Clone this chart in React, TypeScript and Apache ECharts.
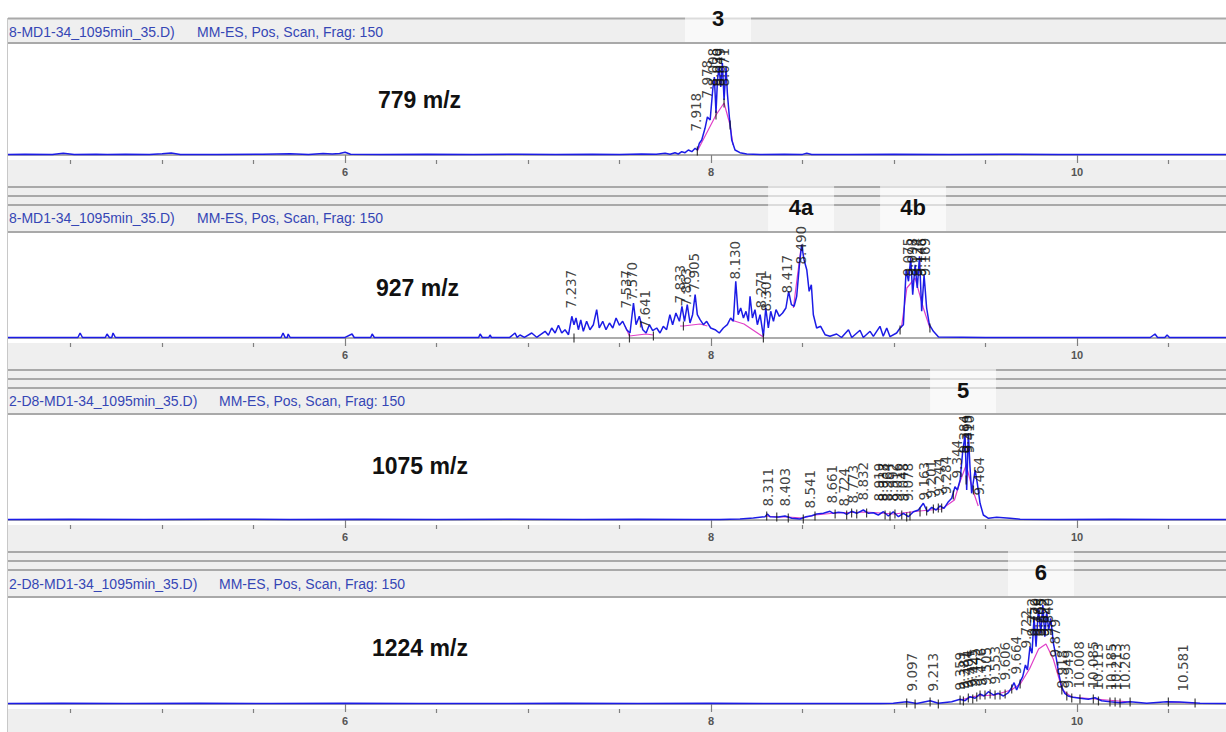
import React, { useEffect, useRef } from "react";
import * as echarts from "echarts";

// ---------- data ----------
const X_MIN = 4.158;
const X_MAX = 10.814;
const majorTicks = [6, 8, 10];
const minorTicks = [4.5, 5, 5.5, 6.5, 7, 7.5, 8.5, 9, 9.5, 10.5];

const panelTitles = ["779 m/z", "927 m/z", "1075 m/z", "1224 m/z"];
const fileNames = [
  "8-MD1-34_1095min_35.D)",
  "8-MD1-34_1095min_35.D)",
  "2-D8-MD1-34_1095min_35.D)",
  "2-D8-MD1-34_1095min_35.D)",
];
const scanInfo = "MM-ES, Pos, Scan, Frag: 150";

// compound tags: [panel, text, retention time]
const tagPanels = [0, 1, 1, 2, 3];
const tagTexts = ["3", "4a", "4b", "5", "6"];
const tagTimes = [8.038, 8.492, 9.104, 9.377, 9.803];

const trace779 = [
  [4.158, 0.5], [4.25, 0.8], [4.4, 0.5], [4.46, 1.8], [4.52, 0.6], [4.64, 0.8], [4.7, 0.5], [4.8, 0.7],
  [4.93, 0.4], [5.0, 1.2], [5.05, 2.0], [5.1, 0.6], [5.3, 0.5], [5.55, 0.8], [5.7, 1.2], [5.8, 0.6],
  [5.88, 1.5], [5.93, 1.0], [5.97, 1.6], [6.0, 2.8], [6.03, 0.8], [6.2, 0.5], [6.45, 0.7], [6.7, 0.4],
  [6.95, 0.8], [7.15, 0.6], [7.35, 0.7], [7.5, 0.6], [7.62, 1.0], [7.7, 0.8],
  [7.749, 1.7], [7.776, 0.7], [7.803, 2.3], [7.821, 1.0], [7.84, 3.3], [7.858, 2.3], [7.876, 5.0],
  [7.895, 3.3], [7.913, 6.7], [7.925, 5.0], [7.936, 11.7], [7.949, 15], [7.967, 26.7], [7.98, 38],
  [7.995, 35], [8.009, 65], [8.018, 78], [8.027, 42], [8.035, 75], [8.044, 88], [8.053, 68], [8.062, 92],
  [8.071, 55], [8.082, 88], [8.089, 62], [8.1, 38], [8.113, 15], [8.131, 5], [8.158, 2.3], [8.195, 1],
  [8.268, 0.5], [8.4, 0.7], [8.5, 0.6], [8.523, 1.8], [8.55, 0.6], [8.75, 0.5], [9.0, 0.7], [9.3, 0.5],
  [9.6, 0.7], [9.9, 0.5], [10.2, 0.6], [10.5, 0.5], [10.814, 0.6],
];

const trace927 = [
  [4.158, 0.5], [4.4, 0.6], [4.54, 0.5], [4.552, 5], [4.565, 0.5], [4.69, 0.5], [4.699, 4], [4.712, 0.5],
  [4.725, 0.5], [4.732, 5], [4.745, 0.5], [5.0, 0.6], [5.3, 0.5], [5.65, 0.5], [5.661, 5], [5.672, 0.6],
  [5.684, 0.5], [5.689, 4], [5.7, 0.5], [6.0, 0.6], [6.038, 4], [6.05, 0.5], [6.14, 0.5], [6.148, 4],
  [6.16, 0.5], [6.5, 0.6], [6.73, 0.5], [6.738, 4], [6.75, 0.5], [6.785, 0.5], [6.792, 3], [6.8, 0.5],
  [6.9, 0.6], [6.929, 5], [6.94, 0.6],
  [6.956, 3], [6.98, 0.7], [7.02, 5], [7.047, 0.7], [7.093, 6.7], [7.111, 2.7], [7.129, 10], [7.148, 5],
  [7.166, 12.7], [7.184, 5], [7.202, 8.3], [7.221, 3.3], [7.239, 21.7], [7.251, 13.3], [7.262, 20],
  [7.275, 8.3], [7.288, 18], [7.302, 6.7], [7.32, 16.7], [7.338, 8.3], [7.357, 13.3], [7.375, 28.3],
  [7.389, 10], [7.408, 16.7], [7.426, 8.3], [7.445, 15], [7.463, 10], [7.481, 20], [7.499, 12.7],
  [7.517, 16.7], [7.539, 8.3], [7.557, 5], [7.576, 35], [7.59, 13.3], [7.608, 21.7], [7.627, 8.3],
  [7.645, 5], [7.663, 13.3], [7.681, 7.3], [7.703, 10], [7.721, 5], [7.739, 11.7], [7.757, 8.3],
  [7.775, 23.3], [7.79, 13.3], [7.808, 25], [7.827, 16.7], [7.841, 31.7], [7.855, 16.7], [7.87, 33.3],
  [7.885, 15], [7.899, 23.3], [7.913, 43.3], [7.925, 23.3], [7.94, 18.3], [7.958, 13.3], [7.976, 16.7],
  [7.998, 10], [8.022, 8.3], [8.045, 5], [8.067, 10], [8.089, 13.3], [8.107, 20], [8.122, 16.7],
  [8.135, 56.7], [8.148, 23.3], [8.162, 30], [8.177, 20], [8.191, 26.7], [8.204, 16.7], [8.213, 41.7],
  [8.226, 20], [8.24, 28.3], [8.253, 13.3], [8.268, 23.3], [8.286, 1.7], [8.299, 30], [8.313, 10],
  [8.326, 26.7], [8.341, 16.7], [8.355, 28.3], [8.373, 21.7], [8.391, 25], [8.409, 30], [8.424, 46.7],
  [8.439, 33.3], [8.454, 31.7], [8.468, 41.7], [8.483, 73.3], [8.495, 93.3], [8.508, 78.3], [8.523, 68.3],
  [8.536, 46.7], [8.548, 53.3], [8.559, 23.3], [8.577, 10], [8.599, 11.7], [8.623, 3.3], [8.65, 1.7],
  [8.686, 4], [8.713, 0.5], [8.751, 8.3], [8.769, 0.5], [8.814, 7.7], [8.832, 0.5], [8.869, 6.7],
  [8.887, 1.7], [8.923, 11.7], [8.941, 1.7], [8.96, 10], [8.978, 1.3], [9.014, 5], [9.033, 10],
  [9.051, 13.3], [9.066, 68.3], [9.079, 56.7], [9.091, 80], [9.102, 43.3], [9.115, 73.3], [9.127, 50],
  [9.139, 81.7], [9.151, 26.7], [9.164, 63.3], [9.178, 30], [9.193, 13.3], [9.215, 6.7], [9.243, 1],
  [9.5, 0.6], [9.8, 0.5], [10.1, 0.6], [10.4, 0.5], [10.426, 4], [10.44, 0.5], [10.48, 0.5], [10.492, 3],
  [10.505, 0.5], [10.814, 0.6],
];

const trace1075 = [
  [4.158, 0.6], [4.5, 0.8], [4.9, 0.5], [5.3, 0.7], [5.7, 0.6], [6.1, 0.8], [6.5, 0.5], [6.9, 0.7],
  [7.3, 0.6], [7.6, 0.8], [7.9, 0.5], [8.049, 0.5], [8.158, 1], [8.231, 2], [8.295, 3.3], [8.308, 6],
  [8.322, 3.3], [8.368, 3], [8.404, 4], [8.441, 1.7], [8.486, 1], [8.519, 3.3], [8.55, 4.3], [8.577, 6],
  [8.614, 6.7], [8.65, 8.7], [8.668, 6.7], [8.696, 7.7], [8.723, 7.3], [8.741, 5.7], [8.768, 8.7],
  [8.796, 6.7], [8.832, 10], [8.86, 6.7], [8.887, 7.3], [8.914, 5], [8.942, 8.3], [8.969, 4], [8.996, 8.3],
  [9.024, 3.3], [9.051, 6.7], [9.078, 3.3], [9.106, 8.3], [9.133, 10], [9.16, 16.7], [9.182, 8.3],
  [9.206, 12.7], [9.23, 10], [9.251, 14], [9.273, 11.7], [9.297, 18.3], [9.315, 21.7], [9.333, 33.3],
  [9.346, 30], [9.361, 40], [9.375, 68.3], [9.388, 85], [9.397, 30], [9.406, 86.7], [9.415, 53.3],
  [9.424, 26.7], [9.443, 50], [9.455, 36.7], [9.47, 16.7], [9.488, 5], [9.516, 1.7], [9.561, 2.7],
  [9.634, 1.7], [9.689, 0.8], [9.9, 0.6], [10.2, 0.8], [10.5, 0.5], [10.814, 0.6],
];

const trace1224 = [
  [4.158, 0.6], [4.45, 0.8], [4.8, 0.5], [5.2, 0.7], [5.6, 0.5], [6.0, 0.8], [6.4, 0.6], [6.8, 0.5],
  [7.2, 0.7], [7.6, 0.5], [8.0, 0.7], [8.4, 0.5], [8.7, 0.6], [8.923, 0.5], [8.996, 0.7], [9.069, 2.3],
  [9.124, 0.4], [9.197, 3.3], [9.242, 0.7], [9.315, 2.3], [9.361, 4.7], [9.388, 3.3], [9.415, 7.3],
  [9.443, 5.7], [9.47, 10], [9.492, 8], [9.516, 12.3], [9.543, 9], [9.57, 10.7], [9.598, 8], [9.625, 11.3],
  [9.643, 16.7], [9.656, 21.3], [9.67, 14], [9.689, 22.3], [9.703, 27.3], [9.718, 39], [9.729, 34],
  [9.743, 57.3], [9.754, 50.7], [9.765, 87.3], [9.776, 57.3], [9.789, 95.7], [9.802, 70.7], [9.813, 99],
  [9.824, 67.3], [9.834, 92.3], [9.845, 74], [9.856, 85.7], [9.871, 60.7], [9.885, 47.3], [9.9, 30.7],
  [9.915, 17.3], [9.933, 10.7], [9.951, 8], [9.978, 6.7], [10.016, 5.7], [10.062, 4.7], [10.098, 6.3],
  [10.134, 3.3], [10.18, 2.3], [10.235, 1.3], [10.29, 2.3], [10.381, 0.7], [10.49, 2.3], [10.563, 2],
  [10.672, 0.7], [10.814, 0.6],
];

// integration baselines (magenta)
const base779 = [[[7.925, 4], [8.027, 40], [8.071, 52], [8.104, 30], [8.12, 10]]];
const base927 = [
  [[7.53, 12], [7.554, 2], [7.645, 4], [7.685, 3]],
  [[7.83, 12], [7.849, 12], [7.94, 14], [7.98, 12]],
  [[8.11, 18], [8.18, 14], [8.286, 1]],
  [[8.45, 30], [8.49, 88]],
  [[9.04, 10], [9.07, 50], [9.115, 60], [9.16, 30], [9.196, 10]],
];
const base1075 = [
  [[8.3, 4], [8.36, 3], [8.42, 3], [8.5, 2], [8.57, 5], [8.68, 7], [8.85, 8], [9.0, 6], [9.14, 9],
    [9.26, 11], [9.33, 20], [9.36, 38], [9.394, 55], [9.43, 30], [9.46, 14]],
];
const base1224 = [
  [[9.36, 4], [9.45, 8], [9.55, 9], [9.64, 14], [9.69, 20], [9.74, 35], [9.79, 55], [9.83, 60],
    [9.87, 45], [9.92, 14], [9.97, 7], [10.1, 5], [10.29, 2]],
  [[10.5, 2], [10.64, 1]],
];

// peak start / end markers [time, abundance]
const marks779 = [[7.925, 4], [8.027, 40], [8.071, 52], [8.104, 30]];
const marks927 = [[7.251, 0], [7.554, 0], [7.685, 2], [7.849, 12], [8.286, 0], [9.033, 8], [9.196, 10]];
const marks1075 = [
  [8.304, 4], [8.359, 3], [8.422, 2], [8.504, 1], [8.568, 4], [8.678, 6], [8.741, 5], [8.768, 7],
  [8.796, 6], [8.85, 7], [8.951, 5], [8.978, 4], [9.005, 6], [9.042, 5], [9.069, 3], [9.087, 4],
  [9.142, 8], [9.178, 9], [9.215, 11], [9.242, 12], [9.26, 12], [9.324, 25], [9.394, 40], [9.434, 30],
];
const marks1224 = [
  [9.069, 1], [9.115, 0], [9.197, 2], [9.242, 0], [9.361, 4], [9.379, 3], [9.406, 6], [9.43, 5],
  [9.452, 7], [9.47, 9], [9.497, 9], [9.525, 10], [9.552, 9], [9.579, 9], [9.607, 10], [9.643, 15],
  [9.689, 20], [9.917, 14], [9.944, 8], [9.971, 6], [10.016, 5], [10.089, 5], [10.117, 3], [10.18, 2],
  [10.208, 2], [10.235, 1], [10.29, 2], [10.499, 2], [10.645, 1],
];

// labelled peaks [retention time, abundance at label foot]
const peaks779 = [[7.918, 22], [7.978, 55], [8.008, 67], [8.03, 67], [8.049, 67], [8.071, 67]];
const peaks927 = [
  [7.237, 28], [7.537, 28], [7.57, 36], [7.641, 8], [7.833, 33], [7.863, 30], [7.905, 45], [8.13, 57],
  [8.271, 28], [8.301, 25], [8.417, 43], [8.49, 72], [9.075, 60], [9.098, 60], [9.124, 60], [9.146, 60],
  [9.169, 60],
];
const peaks1075 = [
  [8.311, 12], [8.403, 12], [8.541, 10], [8.661, 15], [8.724, 12], [8.773, 15], [8.832, 18], [8.919, 17],
  [8.938, 17], [8.964, 17], [8.992, 17], [9.016, 17], [9.048, 17], [9.078, 17], [9.163, 18], [9.201, 20],
  [9.244, 22], [9.284, 24], [9.344, 40], [9.384, 65], [9.399, 65], [9.41, 65], [9.464, 23],
];
const peaks1224 = [
  [9.097, 11], [9.213, 11], [9.359, 12], [9.381, 13], [9.404, 14], [9.425, 15], [9.445, 16], [9.476, 16],
  [9.505, 17], [9.553, 18], [9.606, 22], [9.664, 28], [9.722, 54], [9.752, 66], [9.77, 66], [9.788, 66],
  [9.805, 66], [9.822, 66], [9.84, 66], [9.879, 45], [9.918, 14], [9.949, 14], [10.008, 14], [10.085, 14],
  [10.113, 12], [10.185, 12], [10.213, 12], [10.263, 12], [10.581, 11],
];

const traces = [trace779, trace927, trace1075, trace1224];
const baselines = [base779, base927, base1075, base1224];
const markSets = [marks779, marks927, marks1075, marks1224];
const peakSets = [peaks779, peaks927, peaks1075, peaks1224];

// ---------- layout ----------
const W = 1226;
const H = 732;
const LEFT = 8;
const plotTop = [44, 233, 415, 598];
const axisY = [160, 343, 525, 709];
const headerTextY = [32, 218, 401, 584];
const scanX = [197, 197, 219, 219];
const titleX = [378, 376, 372, 372];
const titleY = [100, 288, 466, 648];

export default function App() {
  const ref = useRef<HTMLDivElement>(null);

  useEffect(() => {
    if (!ref.current) return;
    const chart = echarts.init(ref.current, undefined, { renderer: "svg" });

    const grid: any[] = [];
    const xAxis: any[] = [];
    const yAxis: any[] = [];
    const series: any[] = [];

    for (let k = 0; k < 4; k++) {
      const h = axisY[k] - plotTop[k];
      grid.push({
        left: LEFT, right: 0, top: plotTop[k], height: h,
        show: true, backgroundColor: "#ffffff", borderWidth: 0,
      });
      xAxis.push({
        type: "value", gridIndex: k, min: X_MIN, max: X_MAX, position: "bottom",
        axisLine: { show: true, lineStyle: { color: "#909090", width: 1.5 } },
        axisTick: { show: true, customValues: majorTicks, length: 8, lineStyle: { color: "#808080", width: 1.2 } },
        axisLabel: {
          show: true, customValues: majorTicks, color: "#555", fontSize: 11,
          fontFamily: "Arial, Liberation Sans", fontWeight: "bold", margin: 6,
        },
        splitLine: { show: false },
      });
      xAxis.push({
        type: "value", gridIndex: k, min: X_MIN, max: X_MAX, position: "bottom",
        axisLine: { show: false },
        axisTick: { show: true, customValues: minorTicks, length: 4, lineStyle: { color: "#808080", width: 1.2 } },
        axisLabel: { show: false },
        splitLine: { show: false },
      });
      yAxis.push({ type: "value", gridIndex: k, min: -5, max: h - 5, show: false });

      baselines[k].forEach((seg) => {
        series.push({
          type: "line", xAxisIndex: 2 * k, yAxisIndex: k, data: seg, showSymbol: false, silent: true,
          lineStyle: { color: "#e040c8", width: 1.2 }, z: 2,
        });
      });
      series.push({
        type: "line", xAxisIndex: 2 * k, yAxisIndex: k, data: traces[k], showSymbol: false, silent: true,
        lineStyle: { color: "#1c1ce6", width: 1.5 }, z: 3,
      });
      series.push({
        type: "scatter", xAxisIndex: 2 * k, yAxisIndex: k, data: markSets[k], silent: true,
        symbol: "rect", symbolSize: [1.2, 9], itemStyle: { color: "#111" }, z: 4,
      });
      series.push({
        type: "scatter", xAxisIndex: 2 * k, yAxisIndex: k, data: peakSets[k], silent: true,
        symbolSize: 1, itemStyle: { color: "rgba(0,0,0,0)" }, z: 5, clip: false,
        label: {
          show: true, rotate: 90, position: "top", distance: 1, align: "left", verticalAlign: "middle",
          fontFamily: "DejaVu Sans", fontSize: 13.5, color: "#111",
          formatter: (p: any) => Number(p.value[0]).toFixed(3),
        },
      });
    }

    chart.setOption({
      animation: false,
      backgroundColor: "#efefef",
      grid, xAxis, yAxis, series,
    });

    const graphic: any[] = [];
    graphic.push({ type: "rect", shape: { x: 0, y: 0, width: W, height: 18 }, style: { fill: "#fff" }, z: 1 });
    graphic.push({ type: "rect", shape: { x: 0, y: 0, width: 7, height: H }, style: { fill: "#fff" }, z: 1 });
    graphic.push({ type: "line", shape: { x1: 7.5, y1: 18, x2: 7.5, y2: H }, style: { stroke: "#c8c8c8", lineWidth: 1 }, z: 2 });

    for (let k = 0; k < 4; k++) {
      const lineYs = k === 0 ? [18.5] : [axisY[k - 1] + 27, axisY[k - 1] + 36, axisY[k - 1] + 45];
      lineYs.push(plotTop[k] - 1);
      lineYs.forEach((y) => {
        graphic.push({ type: "line", shape: { x1: LEFT, y1: y, x2: W, y2: y }, style: { stroke: "#a9a9a9", lineWidth: 2 }, z: 2 });
      });
      graphic.push({
        type: "text", x: 9, y: headerTextY[k], z: 10,
        style: { text: fileNames[k], fill: "#3546b5", font: "14px Arial, 'Liberation Sans'", textVerticalAlign: "middle", verticalAlign: "middle" },
      });
      graphic.push({
        type: "text", x: scanX[k], y: headerTextY[k], z: 10,
        style: { text: scanInfo, fill: "#3546b5", font: "14px Arial, 'Liberation Sans'", textVerticalAlign: "middle", verticalAlign: "middle" },
      });
      graphic.push({
        type: "text", x: titleX[k], y: titleY[k], z: 10,
        style: { text: panelTitles[k], fill: "#111", font: "bold 23px Arial, 'Liberation Sans'", textVerticalAlign: "middle", verticalAlign: "middle" },
      });
    }

    tagTexts.forEach((txt, i) => {
      const k = tagPanels[i];
      const cx = chart.convertToPixel({ xAxisIndex: 2 * k }, tagTimes[i]) as number;
      const top = k === 0 ? 0 : axisY[k - 1] + 26;
      const bottom = plotTop[k] - 2;
      graphic.push({
        type: "rect", shape: { x: cx - 33, y: top, width: 66, height: bottom - top },
        style: { fill: "rgba(255,255,255,0.6)" }, z: 3,
      });
      graphic.push({
        type: "text", x: cx, y: k === 0 ? 18 : (top + bottom) / 2 - 1, z: 11,
        style: {
          text: txt, fill: "#111", font: "bold 22px Arial, 'Liberation Sans'",
          textAlign: "center", align: "center", textVerticalAlign: "middle", verticalAlign: "middle",
        },
      });
    });

    chart.setOption({ graphic });

    return () => chart.dispose();
  }, []);

  return (
    <div
      ref={ref}
      style={{ position: "absolute", left: 0, top: 0, width: W, height: H }}
    />
  );
}
